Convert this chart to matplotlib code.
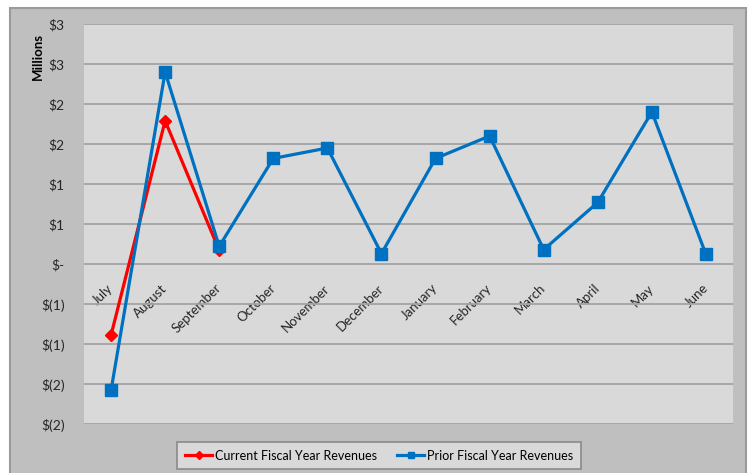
import math
import matplotlib
matplotlib.use('Agg')
import matplotlib.pyplot as plt
from matplotlib.patches import Rectangle
from matplotlib.ticker import FuncFormatter, MultipleLocator

# %% data (millions of $)
months = ['July', 'August', 'September', 'October', 'November', 'December',
          'January', 'February', 'March', 'April', 'May', 'June']
current = [-0.89, 1.79, 0.17]
prior = [-1.58, 2.40, 0.22, 1.32, 1.45, 0.13, 1.32, 1.60, 0.18, 0.77, 1.90, 0.12]

plt.rcParams['font.family'] = ['Lato', 'DejaVu Sans']

W, H = 751, 473
fig = plt.figure(figsize=(W / 100, H / 100), dpi=100)
fig.patch.set_facecolor('white')

# outer chart area
fig.patches.append(Rectangle((10 / W, -0.01), 736 / W, (H - 8) / H + 0.01,
                             transform=fig.transFigure, facecolor='#bfbfbf',
                             edgecolor='#9a9a9a', linewidth=1.5, zorder=0))

ax = fig.add_axes([84 / W, (H - 424) / H, 649 / W, 400 / H])
ax.set_facecolor('#d9d9d9')
ax.set_zorder(1)

x = list(range(len(months)))
ax.plot(x, prior, color='#0070c0', linewidth=2.3, marker='s', markersize=8,
        label='Prior Fiscal Year Revenues', zorder=3)
ax.plot(x[:len(current)], current, color='#ff0000', linewidth=2.3, marker='D',
        markersize=6.5, label='Current Fiscal Year Revenues', zorder=2)

ax.set_xlim(-0.5, len(months) - 0.5)
ax.set_ylim(-2, 3)
ax.yaxis.set_major_locator(MultipleLocator(0.5))
ax.grid(axis='y', color='#a3a3a3', linewidth=1.3)
ax.set_axisbelow(True)


def money(v, pos):
    if abs(v) < 1e-9:
        return '$-'
    n = math.floor(abs(v) + 0.5)
    return f'${n}' if v > 0 else f'$({n})'


ax.yaxis.set_major_formatter(FuncFormatter(money))
ax.tick_params(axis='y', length=0, pad=14, labelsize=10, labelcolor='#262626')

for s in ['top', 'right', 'left']:
    ax.spines[s].set_visible(False)
ax.spines['bottom'].set_position(('data', 0))
ax.spines['bottom'].set_visible(False)
ax.set_xticks(x)
ax.set_xticklabels(months)
ax.tick_params(axis='x', length=0, pad=16, labelsize=9.5, labelcolor='#262626')
for lab in ax.get_xticklabels():
    lab.set_rotation(45)
    lab.set_ha('right')
    lab.set_va('center')
    lab.set_rotation_mode('anchor')

fig.text(38 / W, 1 - 57 / H, 'Millions', rotation=90, ha='center', va='center',
         fontsize=9.5, fontweight='bold', color='black')

handles, labels = ax.get_legend_handles_labels()
leg = fig.legend(handles[::-1], labels[::-1], loc='center',
                 bbox_to_anchor=(379 / W, (H - 455.5) / H), ncol=2,
                 fontsize=9, frameon=True, fancybox=False, framealpha=1,
                 facecolor='#d9d9d9', edgecolor='#8a8a8a', handlelength=2.2,
                 columnspacing=1.6, borderpad=0.6, handletextpad=0.2,
                 markerscale=0.6)
leg.get_frame().set_linewidth(1.2)

fig.savefig('out.png', dpi=100)
